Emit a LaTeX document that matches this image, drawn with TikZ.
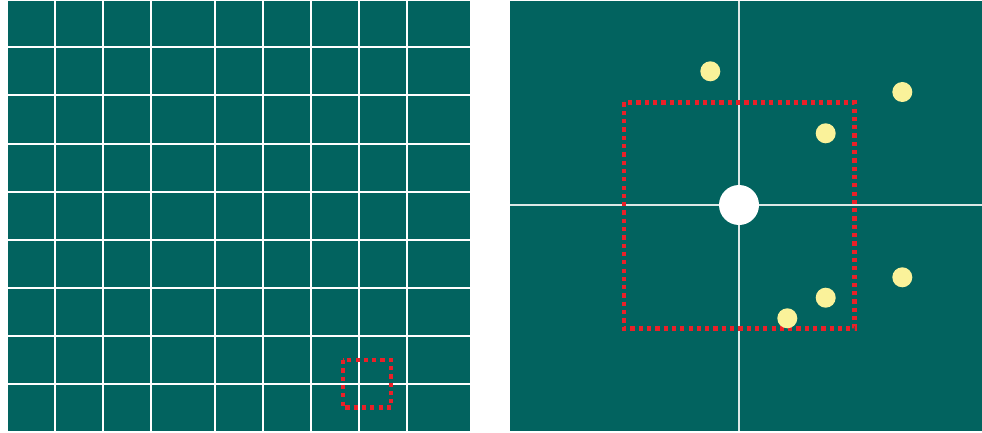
\documentclass[tikz,border=0pt]{standalone}
\usetikzlibrary{shapes}

\definecolor{teal}{HTML}{02635F}
\definecolor{dotyellow}{HTML}{FAF29A}
\definecolor{boxred}{HTML}{EC2028}
\definecolor{crossline}{HTML}{DCE8E6}

\begin{document}
\begin{tikzpicture}[x=1pt, y=-1pt]
  % Define styles
  \tikzstyle{panel} = [fill=teal, draw=none]
  \tikzstyle{gridline} = [white, line width=2pt]
  \tikzstyle{axisline} = [crossline, line width=1.5pt]
  \tikzstyle{window} = [draw=boxred, line width=4.2pt, dash pattern=on 4.2pt off 4.1pt]
  \tikzstyle{star} = [circle, fill=dotyellow, inner sep=0pt, minimum width=19pt, minimum height=20pt]
  \tikzstyle{center} = [circle, fill=white, inner sep=0pt, minimum size=40pt]

  \useasboundingbox (0,0) rectangle (982,433);

  % Left panel
  \fill[panel] (8,1) rectangle (470,431);
  \foreach \x in {54.5, 102.5, 150.5, 214.5, 262.5, 310.5, 358.5, 406.5}
    \draw[gridline] (\x,1) -- (\x,431);
  \foreach \y in {47.5, 95.5, 143.5, 191.5, 239.5, 287.5, 335.5, 383.5}
    \draw[gridline] (8,\y) -- (470,\y);
  \draw[window] (343,360) rectangle (391,407.5);

  % Right panel
  \fill[panel] (510,1) rectangle (982,431);
  \draw[axisline] (739,1) -- (739,431);
  \draw[axisline] (510,205) -- (982,205);
  \draw[window] (624,102.5) rectangle (854.5,328.5);

  % Nodes
  \node[center] (origin) at (739,205) {};
  \node[star] (s1) at (710.3,71.3) {};
  \node[star] (s2) at (902.3,92) {};
  \node[star] (s3) at (825.7,133.3) {};
  \node[star] (s4) at (902.3,277.3) {};
  \node[star] (s5) at (825.7,297.7) {};
  \node[star] (s6) at (787.3,318.3) {};
\end{tikzpicture}
\end{document}
